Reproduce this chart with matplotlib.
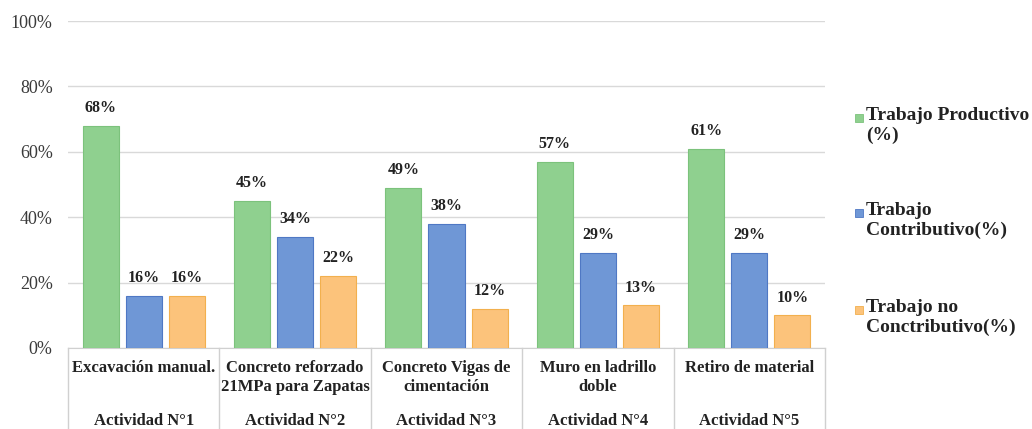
import numpy as np
import matplotlib
matplotlib.use("Agg")
import matplotlib.pyplot as plt
from matplotlib.patches import Rectangle

categories = ["Excavación manual.", "Concreto reforzado\n21MPa para Zapatas",
              "Concreto Vigas de\ncimentación", "Muro en ladrillo\ndoble",
              "Retiro de material"]
activities = ["Actividad N°1", "Actividad N°2", "Actividad N°3",
              "Actividad N°4", "Actividad N°5"]
series_names = ["Trabajo Productivo\n(%)", "Trabajo\nContributivo(%)",
                "Trabajo no\nConctributivo(%)"]
productivo = [68, 45, 49, 57, 61]
contributivo = [16, 34, 38, 29, 29]
no_contributivo = [16, 22, 12, 13, 10]

colors = ["#8fd08f", "#6f97d6", "#fcc37b"]
edges = ["#7cc27c", "#4f78c4", "#f2b04e"]

plt.rcParams['font.family'] = ['Liberation Serif', 'DejaVu Serif']

W, H = 1032, 429
fig = plt.figure(figsize=(W / 100, H / 100), dpi=100)
ax = fig.add_axes([68 / W, (H - 348) / H, (825 - 68) / W, (348 - 21) / H])

x = np.arange(len(categories))
bw = 0.238
step = 0.285
data = [productivo, contributivo, no_contributivo]
for i, vals in enumerate(data):
    pos = x + (i - 1) * step
    ax.bar(pos, vals, width=bw, color=colors[i], edgecolor=edges[i], linewidth=0.8, zorder=3)
    for p, v in zip(pos, vals):
        ax.annotate(f"{v}%", (p, v), xytext=(0, 7), textcoords="offset points",
                    ha="center", va="bottom", fontsize=11.5,
                    fontweight="bold", color="#222222")

ax.set_xlim(-0.5, len(categories) - 0.5)
ax.set_ylim(0, 100)
ax.set_yticks(range(0, 101, 20))
ax.set_yticklabels([f"{t}%" for t in range(0, 101, 20)], fontsize=13, color="#3a3a3a")
ax.tick_params(axis="y", length=0, pad=11)
ax.set_xticks([])
ax.grid(axis="y", color="#d9d9d9", linewidth=1, zorder=0)
for s in ["top", "right", "left"]:
    ax.spines[s].set_visible(False)
ax.spines["bottom"].set_color("#d0d0d0")

# category table under the axis
tr = ax.get_xaxis_transform()
for b in np.arange(-0.5, len(categories), 1.0):
    ax.plot([b, b], [0, -0.25], transform=tr, color="#d0d0d0", lw=1, clip_on=False)
for xi, (cat, act) in enumerate(zip(categories, activities)):
    ax.text(xi, -12 / 327, cat, transform=tr, ha="center", va="top", fontsize=12,
            fontweight="bold", color="#222222", linespacing=1.25)
    ax.text(xi, -73 / 327, act, transform=tr, ha="center", va="center", fontsize=12,
            fontweight="bold", color="#222222")

# legend
leg_y = [118, 213, 310]
for i, name in enumerate(series_names):
    y = leg_y[i]
    fig.patches.append(Rectangle((855 / W, (H - y - 4) / H), 8 / W, 8 / H,
                                 transform=fig.transFigure, facecolor=colors[i],
                                 edgecolor=edges[i], lw=0.6))
    fig.text(866 / W, (H - y + 11) / H, name, ha="left", va="top", fontsize=14,
             fontweight="bold", color="#222222", linespacing=1.2)

fig.savefig("out.png", dpi=100)
